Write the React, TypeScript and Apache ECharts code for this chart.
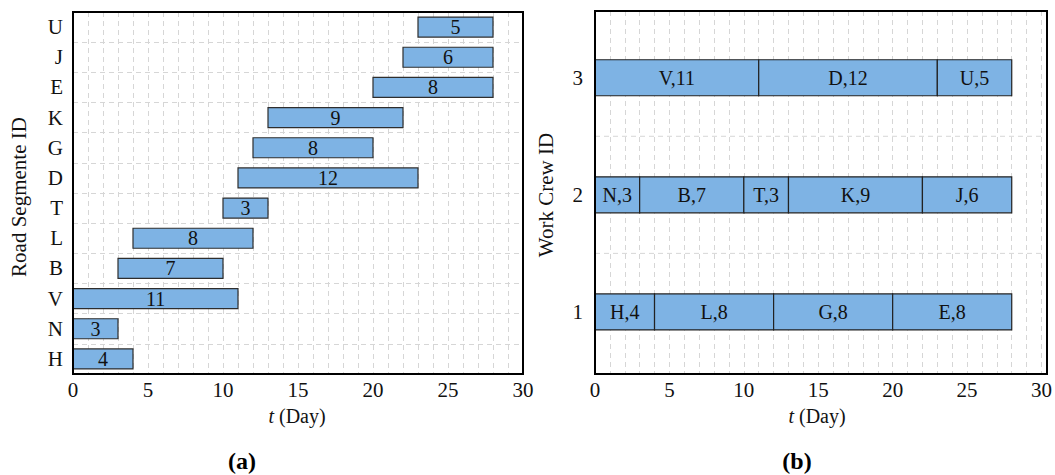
import React, { useEffect, useRef } from 'react';
import * as echarts from 'echarts';

// ---- data ----
const segments = ['H', 'N', 'V', 'B', 'L', 'T', 'D', 'G', 'K', 'E', 'J', 'U'];
const segStart = [0, 0, 0, 3, 4, 10, 11, 12, 13, 20, 22, 23];
const segDuration = [4, 3, 11, 7, 8, 3, 12, 8, 9, 8, 6, 5];

const crewIds = [1, 2, 3];
const crew1Tasks = ['H', 'L', 'G', 'E'];
const crew2Tasks = ['N', 'B', 'T', 'K', 'J'];
const crew3Tasks = ['V', 'D', 'U'];
const crewTasks = [crew1Tasks, crew2Tasks, crew3Tasks];

const xTicks = [0, 5, 10, 15, 20, 25, 30];
const crewSeparators = [1.5, 2.5];

const FONT = '"Liberation Serif", "Times New Roman", serif';
const BAR_FILL = '#7eb3e4';
const dash = { color: '#d6d6d6', width: 1, type: [5, 4] as number[] };

const segData = segments.map((s, i) => [segStart[i], i, segDuration[i], s]);
const crewData: any[] = [];
crewTasks.forEach((tasks, ci) => {
  tasks.forEach((t) => {
    const k = segments.indexOf(t);
    crewData.push([segStart[k], crewIds[ci], segDuration[k], t + ',' + segDuration[k]]);
  });
});

const GRID_A = { left: 73, top: 12, width: 450, height: 362 };
const GRID_B = { left: 595, top: 11, width: 452, height: 363 };

function xAxisCfg(gridIndex: number) {
  return {
    gridIndex,
    type: 'value',
    min: xTicks[0],
    max: xTicks[xTicks.length - 1],
    interval: 5,
    axisLine: { show: true, onZero: false, lineStyle: { color: '#000', width: 2 } },
    axisTick: { show: false },
    axisLabel: { color: '#111', fontSize: 21, fontFamily: FONT, margin: 5 },
    splitLine: { show: true, lineStyle: dash },
    minorTick: { show: false, splitNumber: 5 },
    minorSplitLine: { show: true, lineStyle: dash },
  };
}

function frame(g: any) {
  return {
    type: 'rect',
    z: 100,
    silent: true,
    shape: { x: g.left, y: g.top, width: g.width, height: g.height },
    style: { fill: 'none', stroke: '#000', lineWidth: 2 },
  };
}

function xTitle(x: number) {
  return {
    type: 'text',
    x,
    y: 416,
    style: {
      text: '{i|t} (Day)',
      textAlign: 'center',
      textVerticalAlign: 'middle',
      fill: '#111',
      font: '20px ' + FONT,
      rich: { i: { fontStyle: 'italic', fontSize: 20, fontFamily: FONT, fill: '#111' } },
    },
  };
}

export default function App() {
  const ref = useRef<HTMLDivElement>(null);
  useEffect(() => {
    document.body.style.margin = '0';
    const chart = echarts.init(ref.current!, null, { renderer: 'svg' });
    const option: any = {
      animation: false,
      grid: [
        { ...GRID_A, show: false },
        { ...GRID_B, show: false },
      ],
      xAxis: [xAxisCfg(0), xAxisCfg(1)],
      yAxis: [
        {
          gridIndex: 0,
          type: 'category',
          data: segments,
          axisLine: { show: true, lineStyle: { color: '#000', width: 2 } },
          axisTick: { show: false },
          axisLabel: { color: '#111', fontSize: 21, fontFamily: FONT, margin: 10 },
          splitLine: { show: true, lineStyle: dash },
        },
        {
          gridIndex: 1,
          type: 'value',
          min: 0.47,
          max: 3.57,
          axisLine: { show: true, onZero: false, lineStyle: { color: '#000', width: 2 } },
          axisTick: { show: false },
          axisLabel: { color: '#111', fontSize: 21, fontFamily: FONT, margin: 12, customValues: crewIds },
          splitLine: { show: false },
        },
      ],
      series: [
        {
          type: 'custom',
          xAxisIndex: 0,
          yAxisIndex: 0,
          encode: { x: 0, y: 1 },
          data: segData,
          renderItem: (params: any, api: any) => {
            const s = api.value(0);
            const c = api.value(1);
            const d = api.value(2);
            const p0 = api.coord([s, c]);
            const p1 = api.coord([s + d, c]);
            const h = 20;
            return {
              type: 'rect',
              shape: { x: p0[0], y: p0[1] - h / 2, width: p1[0] - p0[0], height: h },
              style: { fill: BAR_FILL, stroke: '#2e2e2e', lineWidth: 1.2 },
              textContent: {
                style: { text: String(d), fill: '#111', fontSize: 20, fontFamily: FONT },
              },
              textConfig: { position: 'inside' },
            };
          },
        },
        {
          type: 'custom',
          xAxisIndex: 1,
          yAxisIndex: 1,
          encode: { x: 0, y: 1 },
          data: crewData,
          renderItem: (params: any, api: any) => {
            const s = api.value(0);
            const c = api.value(1);
            const d = api.value(2);
            const p0 = api.coord([s, c]);
            const p1 = api.coord([s + d, c]);
            const h = 36;
            const label = crewData[params.dataIndex][3];
            return {
              type: 'rect',
              shape: { x: p0[0], y: p0[1] - h / 2, width: p1[0] - p0[0], height: h },
              style: { fill: BAR_FILL, stroke: '#222', lineWidth: 1.2 },
              textContent: {
                style: { text: label, fill: '#111', fontSize: 20, fontFamily: FONT },
              },
              textConfig: { position: 'inside' },
            };
          },
        },
        {
          type: 'custom',
          xAxisIndex: 1,
          yAxisIndex: 1,
          encode: { y: 0 },
          silent: true,
          z: 1,
          data: crewSeparators.map((v) => [v]),
          renderItem: (params: any, api: any) => {
            const cs = params.coordSys;
            const p = api.coord([0, api.value(0)]);
            return {
              type: 'line',
              shape: { x1: cs.x, y1: p[1], x2: cs.x + cs.width, y2: p[1] },
              style: { stroke: dash.color, lineWidth: 1, lineDash: dash.type },
            };
          },
        },
      ],
      graphic: [
        frame(GRID_A),
        frame(GRID_B),
        xTitle(297),
        xTitle(817),
        {
          type: 'text',
          x: 19,
          y: 197,
          rotation: Math.PI / 2,
          style: {
            text: 'Road Segmente ID',
            textAlign: 'center',
            textVerticalAlign: 'middle',
            fill: '#111',
            font: '21px ' + FONT,
          },
        },
        {
          type: 'text',
          x: 546,
          y: 195,
          rotation: Math.PI / 2,
          style: {
            text: 'Work Crew ID',
            textAlign: 'center',
            textVerticalAlign: 'middle',
            fill: '#111',
            font: '21px ' + FONT,
          },
        },
        {
          type: 'text',
          x: 242,
          y: 461,
          style: {
            text: '(a)',
            textAlign: 'center',
            textVerticalAlign: 'middle',
            fill: '#000',
            font: 'bold 24px ' + FONT,
          },
        },
        {
          type: 'text',
          x: 797,
          y: 461,
          style: {
            text: '(b)',
            textAlign: 'center',
            textVerticalAlign: 'middle',
            fill: '#000',
            font: 'bold 24px ' + FONT,
          },
        },
      ],
    };
    chart.setOption(option);
    return () => chart.dispose();
  }, []);
  return <div ref={ref} style={{ width: 1055, height: 475 }} />;
}
